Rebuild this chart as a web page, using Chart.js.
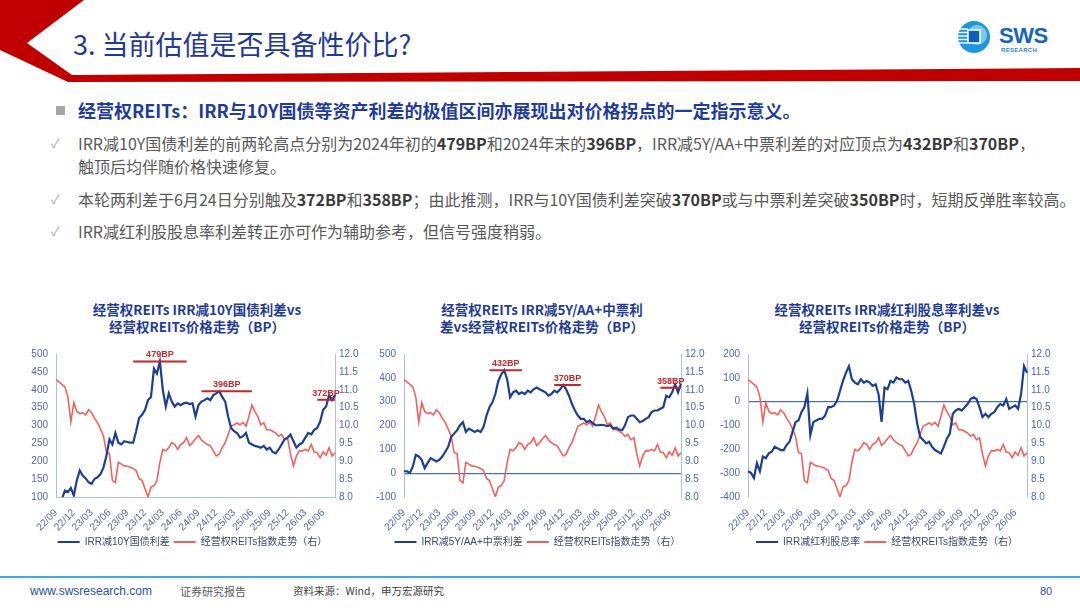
<!DOCTYPE html>
<html>
<head>
<meta charset="utf-8">
<script src="https://cdn.jsdelivr.net/npm/chart.js@4.4.1/dist/chart.umd.min.js"></script>
<style>
  body { margin: 0; background: #fff; }
  #page { position: relative; width: 1080px; height: 608px; overflow: hidden; font-family: "Noto Sans CJK SC", "Noto Sans", sans-serif; }
  .abs { position: absolute; white-space: nowrap; }
  .title { left: 73px; top: 27px; font-size: 27px; color: #1f3a93; line-height: 34px; }
  .head { left: 78px; top: 99px; font-size: 18px; font-weight: bold; color: #1f3c9c; line-height: 22px; }
  .sq { position: absolute; left: 56px; top: 106px; width: 9px; height: 9px; background: #a6a6a6; }
  .row { left: 78px; font-size: 16px; color: #595959; line-height: 22px; }
  .row b { color: #3a3a3a; }
  .ck { left: 51px; font-size: 13px; color: #a9a9a9; line-height: 22px; }
  .ctitle { font-size: 13.5px; font-weight: bold; color: #1f3c96; text-align: center; line-height: 17px; width: 340px; top: 301px; }
  canvas { position: absolute; }
  .foot { font-size: 11px; color: #595959; top: 583px; line-height: 16px; }
</style>
</head>
<body>
<div id="page">
  <!-- header -->
  <svg class="abs" style="left:0;top:0" width="1080" height="90">
    <polygon points="0,0 84,0 27,43 72,75 1080,68 1080,81 68,82 0,50" fill="#c00000"/>
  </svg>
  <div class="abs title">3. 当前估值是否具备性价比?</div>

  <svg class="abs" style="left:955px;top:19px" width="38" height="36">
    <circle cx="19" cy="18" r="16" fill="#1e96dc"/>
    <circle cx="22" cy="16" r="10" fill="#7cc8f0"/>
    <rect x="13" y="11" width="12" height="13" fill="#0d5fb0" stroke="#ffffff" stroke-width="1.5"/>
    <g stroke="#ffffff" stroke-width="1.4">
      <line x1="3" y1="10" x2="13" y2="10"/>
      <line x1="3" y1="13.5" x2="13" y2="13.5"/>
      <line x1="3" y1="17" x2="13" y2="17"/>
      <line x1="3" y1="20.5" x2="13" y2="20.5"/>
      <line x1="3" y1="24" x2="13" y2="24"/>
    </g>
  </svg>
  <div class="abs" style="left:999px;top:23px;font:bold 22px 'Liberation Sans',sans-serif;color:#1565c0;letter-spacing:-0.5px">SWS</div>
  <div class="abs" style="left:1001px;top:47px;font:bold 6px 'Liberation Sans',sans-serif;color:#1e88d0;letter-spacing:0.3px">RESEARCH</div>

  <!-- text block -->
  <div class="sq"></div>
  <div class="abs head">经营权REITs：IRR与10Y国债等资产利差的极值区间亦展现出对价格拐点的一定指示意义。</div>
  <div class="abs ck" style="top:132px">✓</div>
  <div class="abs row" style="top:132px">IRR减10Y国债利差的前两轮高点分别为2024年初的<b>479BP</b>和2024年末的<b>396BP</b>，IRR减5Y/AA+中票利差的对应顶点为<b>432BP</b>和<b>370BP</b>，</div>
  <div class="abs row" style="top:155px">触顶后均伴随价格快速修复。</div>
  <div class="abs ck" style="top:188px">✓</div>
  <div class="abs row" style="top:188px">本轮两利差于6月24日分别触及<b>372BP</b>和<b>358BP</b>；由此推测，IRR与10Y国债利差突破<b>370BP</b>或与中票利差突破<b>350BP</b>时，短期反弹胜率较高。</div>
  <div class="abs ck" style="top:220px">✓</div>
  <div class="abs row" style="top:220px">IRR减红利股股息率利差转正亦可作为辅助参考，但信号强度稍弱。</div>

  <!-- chart titles -->
  <div class="abs ctitle" style="left:27px">经营权REITs IRR减10Y国债利差vs<br>经营权REITs价格走势（BP）</div>
  <div class="abs ctitle" style="left:372px">经营权REITs IRR减5Y/AA+中票利<br>差vs经营权REITs价格走势（BP）</div>
  <div class="abs ctitle" style="left:717px">经营权REITs IRR减红利股息率利差vs<br>经营权REITs价格走势（BP）</div>

  <canvas id="c1" width="345" height="217" style="left:20px;top:340px"></canvas>
  <canvas id="c2" width="345" height="217" style="left:365px;top:340px"></canvas>
  <canvas id="c3" width="350" height="217" style="left:712px;top:340px"></canvas>

  <!-- footer -->
  <div class="abs" style="left:0;top:576px;width:1080px;height:2px;background:#3fa9dd"></div>
  <div class="abs" style="left:30px;top:583px;font:12px 'Liberation Sans',sans-serif;color:#2d4f9e;line-height:16px">www.swsresearch.com</div>
  <div class="abs foot" style="left:180px">证券研究报告</div>
  <div class="abs foot" style="left:293px;font-size:10.5px;color:#404040">资料来源：Wind，申万宏源研究</div>
  <div class="abs foot" style="left:1040px;color:#2d4f9e;font-family:'Liberation Sans',sans-serif">80</div>
</div>

<script>
// x axis: one label per quarter, 6 points per quarter
const tickLabels = ['22/09', '22/12', '23/03', '23/06', '23/09', '23/12', '24/03', '24/06',
  '24/09', '24/12', '25/03', '25/06', '25/09', '25/12', '26/03', '26/06'];
const perQuarter = 6;

// 经营权REITs指数 (right axis, same in all three charts)
const reitIndex = [11.28, 11.22, 11.15, 11.08, 10.80, 10.10, 10.64, 10.40, 10.33, 10.36,
  10.30, 10.44, 10.36, 10.20, 10.08, 9.90, 9.70, 9.24, 9.22, 8.46,
  8.40, 8.97, 8.92, 8.87, 8.86, 8.83, 8.80, 8.74, 8.52, 8.46,
  8.23, 8.00, 8.28, 8.32, 8.46, 8.97, 9.33, 9.29, 9.38, 9.52,
  9.47, 9.33, 9.47, 9.52, 9.66, 9.44, 9.52, 9.63, 9.72, 9.60,
  9.52, 9.47, 9.43, 9.29, 9.15, 9.20, 9.38, 9.52, 9.75, 9.98,
  10.02, 10.07, 10.02, 10.09, 9.98, 10.25, 10.57, 10.39, 10.25, 10.02,
  10.07, 9.88, 9.88, 9.84, 9.79, 9.70, 9.75, 9.60, 9.66, 9.20,
  8.87, 9.15, 9.29, 9.29, 9.33, 9.29, 9.47, 9.26, 9.24, 9.10,
  9.26, 9.17, 9.38, 9.15, 9.24];

// IRR减10Y国债利差
const spread10Y = [80, 85, 95, 118, 114, 125, 104, 146, 174, 160,
  152, 141, 137, 151, 155, 164, 183, 215, 261, 247,
  279, 252, 247, 256, 254, 252, 252, 284, 321, 330,
  344, 371, 380, 459, 445, 479, 399, 353, 390, 367,
  353, 362, 357, 362, 364, 360, 362, 325, 357, 367,
  371, 376, 371, 385, 390, 396, 380, 367, 325, 293,
  284, 279, 266, 270, 279, 252, 247, 243, 241, 238,
  243, 233, 238, 226, 222, 233, 247, 261, 266, 275,
  256, 238, 247, 252, 266, 279, 275, 288, 293, 311,
  344, 353, 385, 371, 385];

// IRR减5Y/AA+中票利差
const spreadAA = [8, 8, 1, 28, 77, 70, 56, 21, 42, 63,
  56, 49, 56, 70, 90, 111, 152, 166, 180, 201,
  214, 173, 187, 180, 173, 180, 173, 194, 242, 277,
  297, 332, 387, 414, 432, 394, 318, 339, 346, 332,
  339, 332, 346, 339, 352, 359, 352, 346, 339, 325,
  332, 346, 339, 352, 370, 352, 325, 290, 263, 242,
  228, 228, 214, 221, 210, 201, 201, 203, 201, 197,
  201, 187, 191, 183, 180, 201, 235, 242, 242, 228,
  214, 219, 228, 235, 256, 263, 263, 270, 277, 325,
  318, 339, 373, 339, 376];

// IRR减红利股息率
const spreadDiv = [-292, -299, -320, -258, -292, -230, -237, -217, -210, -189,
  -196, -203, -203, -182, -168, -127, -86, -79, -44, -23,
  35, -140, -86, -79, -72, -72, -58, -23, -23, -16,
  4, 45, 87, 121, 149, 94, 80, 73, 94, 80,
  87, 80, 66, 73, 30, -85, 59, 52, 87, 80,
  101, 94, 94, 80, 87, 45, -10, -92, -148, -161,
  -175, -168, -189, -203, -210, -217, -189, -155, -134, -51,
  -37, -30, -37, -23, -10, 11, 18, 11, -23, -65,
  -51, -65, -51, -44, -23, -10, -16, 11, -30, -23,
  -16, -30, 32, 149, 121];

// marked highs (BP) and the index span of each marker line
const peaks10Y = [479, 396, 372];
const spans10Y = [[26, 44], [49, 66], [88, 94]];
const peaksAA = [432, 370, 358];
const spansAA = [[29, 40], [51, 60], [87, 94]];

const BLUE = '#1c3f94';
const RED = '#f0625c';
const MARK = '#c0272d';
const TICK = '#4f66a8';
const AXIS = '#aebedf';
const FONT = "'Liberation Sans', 'Noto Sans CJK SC', sans-serif";

const labels = reitIndex.map((v, i) => i % perQuarter === 0 ? tickLabels[i / perQuarter] : '');

function peakLine(peaks, spans) {
  const arr = labels.map(() => null);
  peaks.forEach((p, k) => {
    for (let i = spans[k][0]; i <= spans[k][1]; i++) arr[i] = p;
  });
  return arr;
}

// writes "xxxBP" above each marker line
function peakLabels(peaks, spans) {
  return {
    id: 'peakLabels',
    afterDatasetsDraw(chart) {
      const ctx = chart.ctx;
      const x = chart.scales.x, y = chart.scales.y;
      ctx.save();
      ctx.font = 'bold 9px ' + FONT;
      ctx.fillStyle = MARK;
      ctx.textAlign = 'center';
      ctx.textBaseline = 'bottom';
      peaks.forEach((p, k) => {
        const mid = (spans[k][0] + spans[k][1]) / 2;
        ctx.fillText(p + 'BP', x.getPixelForValue(mid), y.getPixelForValue(p) - 2);
      });
      ctx.restore();
    }
  };
}

function makeChart(id, o) {
  const datasets = [
    { label: o.blueLabel, data: o.blue, borderColor: BLUE, backgroundColor: BLUE, borderWidth: 2.2, yAxisID: 'y', order: 1 },
    { label: '经营权REITs指数走势（右）', data: reitIndex, borderColor: RED, backgroundColor: RED, borderWidth: 1.6, yAxisID: 'y1', order: 2 }
  ];
  const plugins = [];
  if (o.peaks) {
    datasets.push({ label: '', data: peakLine(o.peaks, o.spans), borderColor: MARK, borderWidth: 2, yAxisID: 'y', order: 0 });
    plugins.push(peakLabels(o.peaks, o.spans));
  }

  new Chart(document.getElementById(id), {
    type: 'line',
    data: { labels: labels, datasets: datasets },
    plugins: plugins,
    options: {
      responsive: false,
      animation: false,
      layout: { padding: { top: 11, left: 0, right: 0, bottom: 0 } },
      elements: { point: { radius: 0 }, line: { tension: 0 } },
      plugins: {
        tooltip: { enabled: false },
        legend: {
          position: 'bottom',
          labels: {
            boxWidth: 22,
            boxHeight: 2,
            padding: 4,
            color: '#3b4a6b',
            font: { family: FONT, size: 10 },
            generateLabels: chart => chart.data.datasets.slice(0, 2).map((d, i) => ({
              text: d.label, fillStyle: d.borderColor, strokeStyle: d.borderColor,
              lineWidth: 0, datasetIndex: i, fontColor: '#3b4a6b'
            }))
          }
        }
      },
      scales: {
        x: {
          grid: { display: false },
          border: { display: !!o.xBorder, color: AXIS },
          afterFit: s => { s.height = 36; },
          ticks: {
            autoSkip: false, maxRotation: 45, minRotation: 45, padding: 2,
            color: TICK, font: { family: FONT, size: 10 }
          }
        },
        y: {
          position: 'left',
          min: o.yMin, max: o.yMax,
          afterFit: s => { s.width = o.leftW; },
          border: { color: AXIS },
          grid: {
            drawTicks: false,
            color: c => (o.zeroLine && c.tick.value === 0) ? '#4a6cc0' : 'rgba(0,0,0,0)',
            lineWidth: 1.2
          },
          ticks: { stepSize: o.yStep, padding: 8, color: TICK, font: { family: FONT, size: 10 } }
        },
        y1: {
          position: 'right',
          min: 8, max: 12,
          afterFit: s => { s.width = o.rightW; },
          border: { color: AXIS },
          grid: { display: false, drawTicks: false },
          ticks: {
            stepSize: 0.5, padding: 4, color: TICK, font: { family: FONT, size: 10 },
            callback: v => v.toFixed(1)
          }
        }
      }
    }
  });
}

makeChart('c1', {
  blue: spread10Y, blueLabel: 'IRR减10Y国债利差',
  yMin: 100, yMax: 500, yStep: 50, leftW: 36, rightW: 30, xBorder: true,
  peaks: peaks10Y, spans: spans10Y
});
makeChart('c2', {
  blue: spreadAA, blueLabel: 'IRR减5Y/AA+中票利差',
  yMin: -100, yMax: 500, yStep: 100, leftW: 39, rightW: 29, zeroLine: true,
  peaks: peaksAA, spans: spansAA
});
makeChart('c3', {
  blue: spreadDiv, blueLabel: 'IRR减红利股息率',
  yMin: -400, yMax: 200, yStep: 100, leftW: 36, rightW: 35, zeroLine: true
});
</script>
</body>
</html>
